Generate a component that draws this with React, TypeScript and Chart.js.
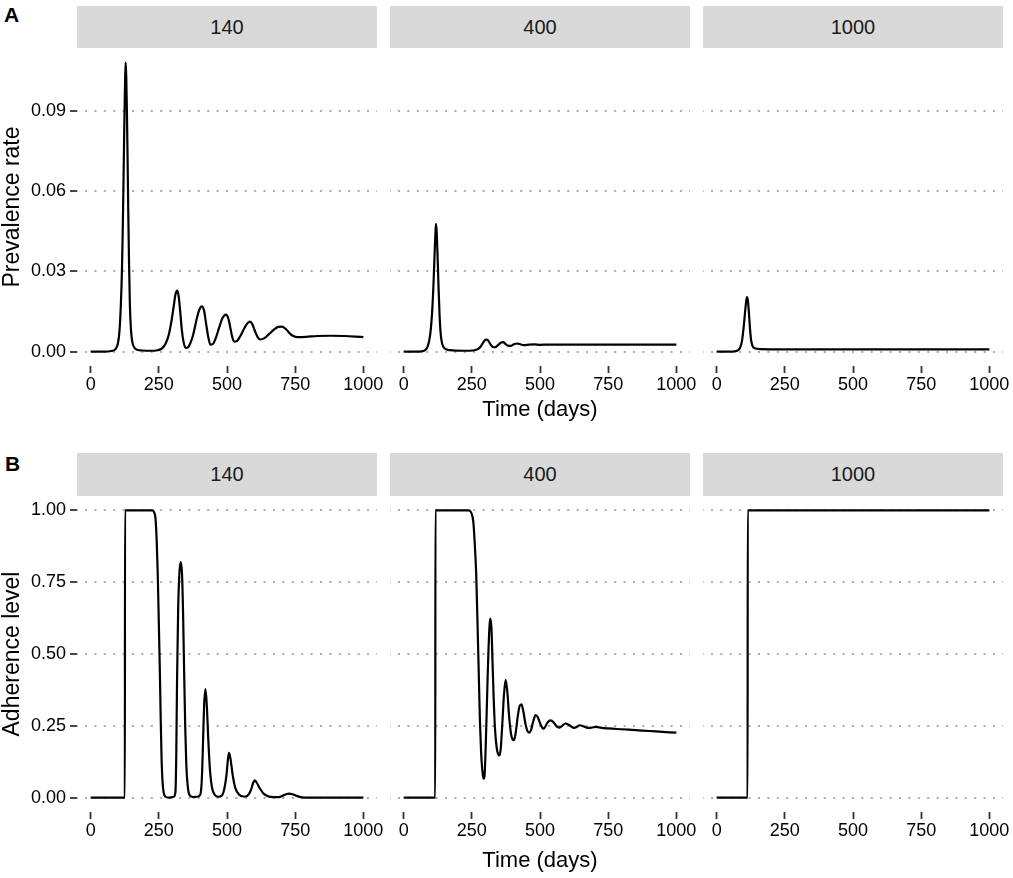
import { useEffect, useRef } from "react";
import { Chart, registerables } from "chart.js";

Chart.register(...registerables);

const FONT = '"Liberation Sans", Arial, Helvetica, sans-serif';
Chart.defaults.font.family = FONT;

const FACETS = ["140", "400", "1000"];
const X_TICKS = [0, 250, 500, 750, 1000];
const PREV_TICKS = [0, 0.03, 0.06, 0.09];
const ADH_TICKS = [0, 0.25, 0.5, 0.75, 1];

// Panel A: prevalence rate, facet 140
const T_PREV_140 = [
  0, 50, 75, 90, 100, 106, 111, 115, 118, 121, 124, 126.5, 128.5, 130.5, 133, 135.5, 138, 141, 144, 148,
  153, 160, 170, 190, 220, 245, 262, 275, 287, 297, 305, 311, 317, 322, 328, 334, 340, 348, 356, 365,
  376, 388, 398, 408, 416, 424, 431, 439, 448, 460, 472, 484, 496, 505, 513, 519, 526, 537, 550, 565,
  576, 584, 593, 603, 613, 622, 637, 655, 672, 688, 701, 715, 730, 745, 758, 790, 830, 880, 930, 970, 1000,
];
const V_PREV_140 = [
  0, 0, 0.0002, 0.0008, 0.003, 0.008, 0.018, 0.031, 0.047, 0.067, 0.088, 0.102, 0.108, 0.103, 0.09, 0.072, 0.052, 0.032, 0.017, 0.008,
  0.0035, 0.0015, 0.0007, 0.0004, 0.0003, 0.0005, 0.0012, 0.003, 0.0065, 0.0118, 0.0172, 0.0213, 0.0228, 0.0212, 0.0155, 0.0085, 0.004, 0.0014, 0.0015, 0.003,
  0.0063, 0.0118, 0.0155, 0.0169, 0.0152, 0.01, 0.0056, 0.0026, 0.0028, 0.0054, 0.0092, 0.0126, 0.0138, 0.0123, 0.0085, 0.0055, 0.0037, 0.004, 0.006, 0.009,
  0.0107, 0.0112, 0.0102, 0.0075, 0.0053, 0.0045, 0.005, 0.0066, 0.0082, 0.0092, 0.0093, 0.0085, 0.0068, 0.0057, 0.0054, 0.0055, 0.0058, 0.0059, 0.0058, 0.0056, 0.0054,
];

// Panel A: prevalence rate, facet 400
const T_PREV_400 = [
  0, 55, 75, 88, 97, 104, 109, 113, 116, 118.5, 121, 124, 128, 132, 136, 141, 150, 170, 220, 255,
  270, 282, 292, 300, 306, 313, 322, 330, 338, 348, 358, 365, 373, 382, 392, 404, 415, 425, 440, 460,
  480, 500, 530, 600, 700, 800, 900, 1000,
];
const V_PREV_400 = [
  0, 0, 0.0003, 0.0018, 0.006, 0.014, 0.024, 0.035, 0.043, 0.0477, 0.045, 0.037, 0.024, 0.013, 0.0065, 0.003, 0.0012, 0.0005, 0.0003, 0.0004,
  0.0008, 0.0018, 0.0034, 0.0044, 0.0045, 0.0036, 0.0022, 0.0016, 0.0017, 0.0026, 0.0034, 0.0035, 0.0029, 0.0022, 0.0021, 0.0027, 0.003, 0.0028, 0.0024, 0.0026,
  0.0027, 0.0025, 0.0026, 0.0026, 0.0026, 0.0026, 0.0026, 0.0026,
];

// Panel A: prevalence rate, facet 1000
const T_PREV_1000 = [0, 55, 75, 85, 93, 99, 104, 108, 111, 114, 118, 122, 126, 131, 140, 160, 250, 500, 750, 1000];
const V_PREV_1000 = [
  0, 0, 0.0003, 0.0012, 0.004, 0.009, 0.0145, 0.0185, 0.0203, 0.0195, 0.015, 0.009, 0.0045, 0.0022, 0.0012, 0.0009, 0.0008, 0.0008, 0.0008, 0.0008,
];

// Panel B: adherence level, facet 140
const T_ADH_140 = [
  0, 125.5, 126, 226, 232, 238, 242, 246, 250, 254, 257, 260, 264, 268, 275, 285, 305, 311, 314, 317,
  321, 326, 330.5, 335, 339, 343, 347, 351, 356, 362, 375, 390, 402, 408, 412, 416, 421, 426, 432, 438,
  445, 455, 470, 480, 490, 498, 503, 507, 512, 521, 530, 545, 560, 570, 580, 589, 596, 602, 610, 622,
  635, 650, 670, 690, 705, 717, 727, 740, 755, 775, 800, 1000,
];
const V_ADH_140 = [
  0, 0, 1, 1, 0.995, 0.97, 0.9, 0.78, 0.61, 0.43, 0.27, 0.14, 0.05, 0.017, 0.003, 0, 0.003, 0.02, 0.15, 0.42,
  0.66, 0.79, 0.82, 0.78, 0.64, 0.43, 0.24, 0.11, 0.04, 0.01, 0.002, 0.003, 0.01, 0.07, 0.19, 0.32, 0.378, 0.32, 0.19, 0.09,
  0.035, 0.01, 0.003, 0.006, 0.03, 0.078, 0.13, 0.156, 0.14, 0.078, 0.035, 0.01, 0.004, 0.004, 0.012, 0.03, 0.052, 0.06, 0.05, 0.03,
  0.013, 0.005, 0.002, 0.002, 0.007, 0.012, 0.014, 0.012, 0.006, 0.001, 0, 0,
];

// Panel B: adherence level, facet 400
const T_ADH_400 = [
  0, 116, 116.5, 238, 246, 252, 256, 261, 266, 270, 274, 277, 280, 284, 288, 291, 294, 297, 300, 304,
  308, 311, 315, 318, 322, 326, 330, 335, 341, 346, 351, 356, 362, 368, 374, 380, 387, 394, 400, 404,
  410, 418, 425, 432, 439, 446, 453, 460, 467, 475, 484, 492, 500, 507, 512, 518, 528, 539, 550, 560,
  570, 580, 593, 605, 624, 635, 646, 660, 675, 690, 705, 725, 750, 800, 850, 900, 950, 1000,
];
const V_ADH_400 = [
  0, 0, 1, 1, 0.995, 0.98, 0.955, 0.88, 0.78, 0.64, 0.49, 0.37, 0.26, 0.16, 0.1, 0.075, 0.066, 0.08, 0.15, 0.28,
  0.42, 0.51, 0.6, 0.623, 0.59, 0.47, 0.35, 0.24, 0.175, 0.152, 0.147, 0.17, 0.26, 0.36, 0.41, 0.37, 0.28, 0.22, 0.202, 0.2,
  0.22, 0.28, 0.318, 0.325, 0.3, 0.26, 0.234, 0.226, 0.235, 0.265, 0.287, 0.28, 0.26, 0.245, 0.24, 0.245, 0.262, 0.269, 0.262, 0.249,
  0.244, 0.249, 0.258, 0.254, 0.243, 0.246, 0.252, 0.248, 0.243, 0.244, 0.246, 0.243, 0.241, 0.238, 0.235, 0.232, 0.229, 0.226,
];

// Panel B: adherence level, facet 1000
const T_ADH_1000 = [0, 113.5, 114, 1000];
const V_ADH_1000 = [0, 0, 1, 1];

const PANEL_LEFTS = [77, 390, 703];
const PANEL_W = 300;
const PAD_RIGHT = 24;

interface PanelProps {
  times: number[];
  values: number[];
  left: number;
  top: number;
  plotH: number;
  axisW: number;
  axisH: number;
  yMin: number;
  yMax: number;
  yTicks: number[];
  yTitle?: string;
  xTitle?: string;
}

function Panel({ times, values, left, top, plotH, axisW, axisH, yMin, yMax, yTicks, yTitle, xTitle }: PanelProps) {
  const canvasRef = useRef<HTMLCanvasElement>(null);
  const width = axisW + PANEL_W + PAD_RIGHT;
  const height = plotH + axisH;
  const showY = axisW > 0;

  useEffect(() => {
    const canvas = canvasRef.current;
    if (!canvas) return;
    const chart = new Chart(canvas, {
      type: "line",
      data: {
        datasets: [
          {
            data: times.map((t, i) => ({ x: t, y: values[i] })),
            borderColor: "#000",
            borderWidth: 2.2,
            pointRadius: 0,
            fill: false,
            cubicInterpolationMode: "monotone",
          },
        ],
      },
      options: {
        animation: false,
        responsive: false,
        maintainAspectRatio: false,
        devicePixelRatio: 1,
        layout: { padding: { left: 0, top: 0, right: PAD_RIGHT, bottom: 0 } },
        plugins: { legend: { display: false }, tooltip: { enabled: false } },
        scales: {
          x: {
            type: "linear",
            min: -50,
            max: 1050,
            afterBuildTicks: (ax: any) => {
              ax.ticks = X_TICKS.map((value) => ({ value }));
            },
            afterFit: (ax: any) => {
              ax.height = axisH;
              ax.paddingLeft = 0;
              ax.paddingRight = 0;
            },
            grid: { drawOnChartArea: false, drawTicks: true, tickLength: 7, tickColor: "#333", tickWidth: 1.8 },
            border: { display: false },
            ticks: {
              color: "#000",
              font: { size: 18 },
              padding: 1,
              maxRotation: 0,
              autoSkip: false,
              callback: (v: any) => String(v),
            },
            title: {
              display: !!xTitle,
              text: xTitle ?? "",
              color: "#000",
              font: { size: 22, lineHeight: 1 },
              padding: 0,
            },
          },
          y: {
            type: "linear",
            min: yMin,
            max: yMax,
            afterBuildTicks: (ax: any) => {
              ax.ticks = yTicks.map((value) => ({ value }));
            },
            afterFit: (ax: any) => {
              ax.width = axisW;
              ax.paddingTop = 0;
              ax.paddingBottom = 0;
            },
            grid: {
              color: "#aaaaaa",
              lineWidth: 2,
              drawTicks: showY,
              tickLength: 7,
              tickColor: "#333",
              tickWidth: 1.8,
              tickBorderDash: [],
            },
            border: { display: false, dash: [2, 7.4], dashOffset: -8 },
            ticks: {
              display: showY,
              color: "#000",
              font: { size: 18 },
              padding: 4,
              callback: (v: any) => Number(v).toFixed(2),
            },
            title: {
              display: !!yTitle,
              text: yTitle ?? "",
              color: "#000",
              font: { size: 23, lineHeight: 1 },
              padding: { top: 1, bottom: 0 },
            },
          },
        },
      },
    });
    return () => chart.destroy();
  }, [times, values, axisW, axisH, yMin, yMax, yTicks, yTitle, xTitle]);

  return (
    <canvas
      ref={canvasRef}
      width={width}
      height={height}
      style={{ position: "absolute", left: left - axisW, top, width, height }}
    />
  );
}

function Strip({ label, left, top, height }: { label: string; left: number; top: number; height: number }) {
  return (
    <div
      style={{
        position: "absolute",
        left,
        top,
        width: PANEL_W,
        height,
        background: "#d9d9d9",
        color: "#1a1a1a",
        fontSize: 20,
        display: "flex",
        alignItems: "center",
        justifyContent: "center",
      }}
    >
      {label}
    </div>
  );
}

const ROW_A = { stripTop: 6, stripH: 42, top: 48, plotH: 318, axisH: 55 };
const ROW_B = { stripTop: 453, stripH: 43, top: 496, plotH: 316, axisH: 60 };

export default function App() {
  const prev = [
    [T_PREV_140, V_PREV_140],
    [T_PREV_400, V_PREV_400],
    [T_PREV_1000, V_PREV_1000],
  ];
  const adh = [
    [T_ADH_140, V_ADH_140],
    [T_ADH_400, V_ADH_400],
    [T_ADH_1000, V_ADH_1000],
  ];
  return (
    <div
      style={{
        position: "absolute",
        left: 0,
        top: 0,
        width: 1013,
        height: 878,
        background: "#fff",
        fontFamily: FONT,
        overflow: "hidden",
      }}
    >
      <div style={{ position: "absolute", left: 4, top: 4, fontSize: 21, fontWeight: "bold", lineHeight: 1 }}>A</div>
      <div style={{ position: "absolute", left: 5, top: 453, fontSize: 21, fontWeight: "bold", lineHeight: 1 }}>B</div>
      {FACETS.map((f, i) => (
        <Strip key={"sa" + f} label={f} left={PANEL_LEFTS[i]} top={ROW_A.stripTop} height={ROW_A.stripH} />
      ))}
      {FACETS.map((f, i) => (
        <Strip key={"sb" + f} label={f} left={PANEL_LEFTS[i]} top={ROW_B.stripTop} height={ROW_B.stripH} />
      ))}
      {prev.map(([t, v], i) => (
        <Panel
          key={"pa" + i}
          times={t}
          values={v}
          left={PANEL_LEFTS[i]}
          top={ROW_A.top}
          plotH={ROW_A.plotH}
          axisW={i === 0 ? PANEL_LEFTS[0] : 0}
          axisH={ROW_A.axisH}
          yMin={-0.0054}
          yMax={0.1134}
          yTicks={PREV_TICKS}
          yTitle={i === 0 ? "Prevalence rate" : undefined}
          xTitle={i === 1 ? "Time (days)" : undefined}
        />
      ))}
      {adh.map(([t, v], i) => (
        <Panel
          key={"pb" + i}
          times={t}
          values={v}
          left={PANEL_LEFTS[i]}
          top={ROW_B.top}
          plotH={ROW_B.plotH}
          axisW={i === 0 ? PANEL_LEFTS[0] : 0}
          axisH={ROW_B.axisH}
          yMin={-0.05}
          yMax={1.05}
          yTicks={ADH_TICKS}
          yTitle={i === 0 ? "Adherence level" : undefined}
          xTitle={i === 1 ? "Time (days)" : undefined}
        />
      ))}
    </div>
  );
}
